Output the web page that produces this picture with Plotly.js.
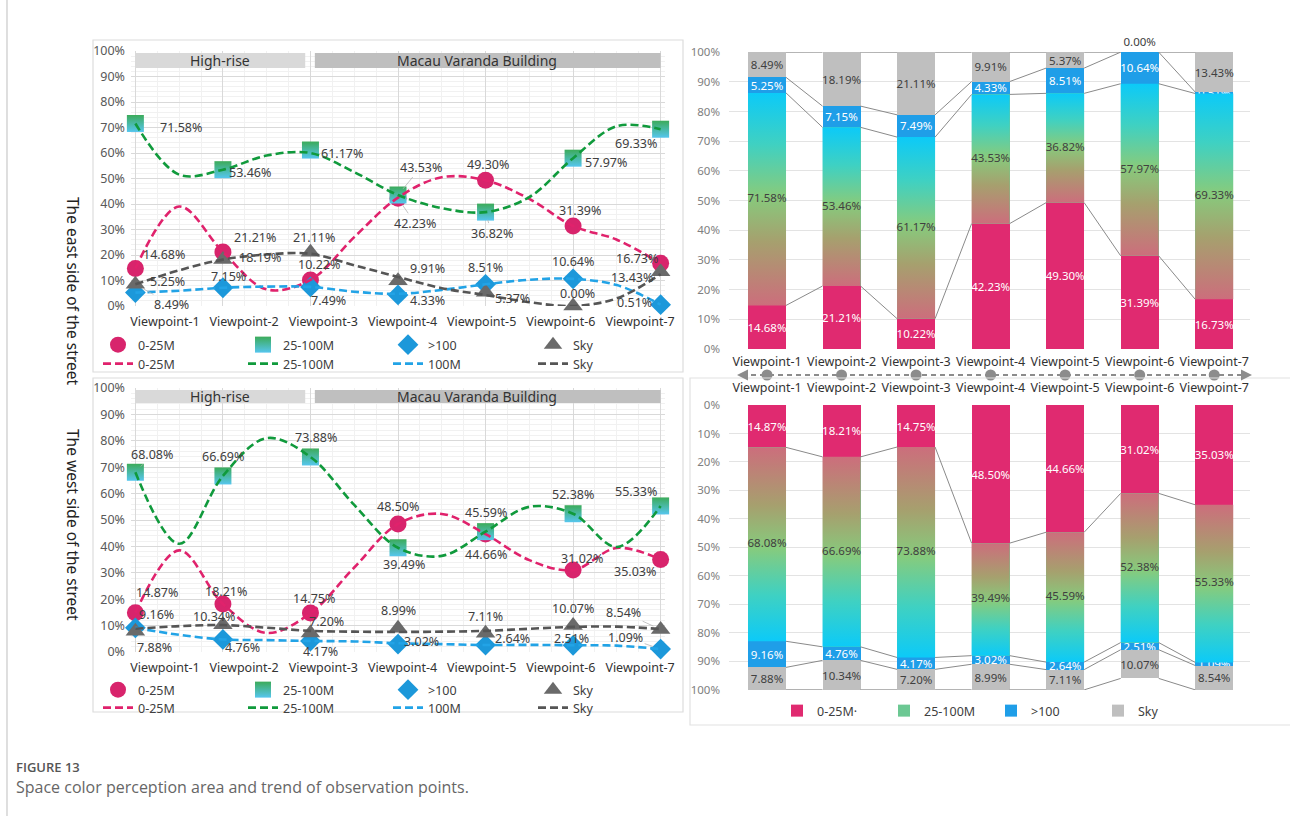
<!DOCTYPE html>
<html>
<head>
<meta charset="utf-8">
<script src="https://cdn.plot.ly/plotly-3.0.1.min.js"></script>
<style>
  html, body { margin: 0; padding: 0; background: #ffffff; }
  #chart { width: 1290px; height: 816px; }
</style>
</head>
<body>
<div id="chart"></div>
<script>
// ---- categories ----
const viewpoints = ['Viewpoint-1', 'Viewpoint-2', 'Viewpoint-3', 'Viewpoint-4', 'Viewpoint-5', 'Viewpoint-6', 'Viewpoint-7'];
const markerNames = ['0-25M', '25-100M', '>100', 'Sky'];
const lineNames = ['0-25M', '25-100M', '100M', 'Sky'];
const barNames = ['0-25M·', '25-100M', '>100', 'Sky'];
const zoneNames = ['High-rise', 'Macau Varanda Building'];
const sideNames = ['The east side of the street', 'The west side of the street'];

// ---- east side shares (%) ----
const eastNear = [14.68, 21.21, 10.22, 42.23, 49.30, 31.39, 16.73];
const eastMid  = [71.58, 53.46, 61.17, 43.53, 36.82, 57.97, 69.33];
const eastFar  = [5.25, 7.15, 7.49, 4.33, 8.51, 10.64, 0.51];
const eastSky  = [8.49, 18.19, 21.11, 9.91, 5.37, 0.00, 13.43];

// ---- west side shares (%) ----
const westNear = [14.87, 18.21, 14.75, 48.50, 44.66, 31.02, 35.03];
const westMid  = [68.08, 66.69, 73.88, 39.49, 45.59, 52.38, 55.33];
const westFar  = [9.16, 4.76, 4.17, 3.02, 2.64, 2.51, 1.09];
const westSky  = [7.88, 10.34, 7.20, 8.99, 7.11, 10.07, 8.54];

// ---- trend curves, sampled every half viewpoint ----
const trendX = [0, 0.5, 1, 1.5, 2, 2.5, 3, 3.5, 4, 4.5, 5, 5.5, 6];
const eastNearTrend = [14.68, 39, 21.21, 6.5, 10.22, 27, 42.5, 50.5, 49.3, 42, 31.39, 26, 16.73];
const eastMidTrend  = [71.58, 51.5, 53.46, 59, 60, 52.5, 43.53, 38.4, 36.82, 42.7, 57.97, 70.5, 69.33];
const eastFarTrend  = [5.25, 6, 7.15, 7.6, 7.49, 5.6, 4.8, 6.3, 8.51, 10.3, 10.64, 8.2, 0.51];
const eastSkyTrend  = [8.49, 14, 18.19, 20.2, 20.5, 16, 11.4, 7, 4.3, 1.5, 0, 3, 12.5];
const westNearTrend = [14.87, 38.5, 18.21, 7.2, 14.75, 32, 48.5, 52.3, 44.66, 34.8, 31.02, 39.4, 35.03];
const westMidTrend  = [68.08, 41, 66.69, 81, 73.88, 55.7, 39.49, 36.4, 45.59, 55, 52.38, 39.8, 55.33];
const westFarTrend  = [9.16, 6.5, 4.76, 4.5, 4.17, 4, 3.3, 3, 2.64, 2.7, 2.55, 2.4, 1.09];
const westSkyTrend  = [8.8, 9.8, 10.2, 9.2, 8, 7.7, 7.6, 7.7, 8, 8.8, 9.5, 9.6, 8.7];

// ---- look ----
const W = 1290, H = 816;
const px = v => v / W;
const py = v => 1 - v / H;
const idx = viewpoints.map((_, i) => i);
const fmt = v => v.toFixed(2) + '%';
const FONT = '"Noto Sans", "Open Sans", sans-serif';
const C = {
  near: '#d8246c', nearLine: '#e0226c',
  mid: '#3aa95e', midLine: '#109a3c',
  far: '#1c98da', farLine: '#22a3e6',
  sky: '#6a6a6a', skyLine: '#555555',
  barNear: '#e02a70', barFar: '#1f9ee8', barSky: '#bfbfbf',
  grid: '#d9d9d9', minor: '#f1f1f1'
};
const halfBar = 0.255;
const shareTop = 100.05; // a hair above 100% so rounded totals stay inside the axis
const gradUp = [[0, '#cc6e7c'], [0.3, '#a6a06e'], [0.52, '#86cb7d'], [0.76, '#3fd1c2'], [1, '#0ccaf8']];
const gradDown = gradUp.map(([t, c]) => [1 - t, c]).reverse();

// label placement [dx, dy] in px, per series and viewpoint
const eastShift = {
  near: [[29, -14], [32, -14], [9, -15], [17, 25], [2, -16], [7, -15], [-24, -5]],
  mid:  [[46, 4], [27, 3], [32, 3], [23, -28], [6, 21], [33, 4], [-25, 14]],
  far:  [[32, -11], [6, -11], [18, 14], [29, 6], [0, -17], [0, -17], [-26, -2]],
  sky:  [[36, 20], [37, -2], [4, -15], [29, -12], [27, 6], [4, -13], [-29, 6]]
};
const eastLeader = { near: [3, 5], mid: [3, 4], far: [], sky: [0] };
const westShift = {
  near: [[22, -20], [3, -12], [4, -15], [0, -17], [0, 20], [9, -12], [-26, 12]],
  mid:  [[17, -18], [0, -19], [6, -19], [6, 17], [0, -19], [0, -19], [-25, -14]],
  far:  [[21, -13], [20, 8], [10, 11], [23, -3], [27, -7], [-2, -7], [-35, -12]],
  sky:  [[19, 16], [-9, -8], [16, -11], [0, -18], [0, -17], [0, -17], [-37, -17]]
};
const westLeader = { near: [6], mid: [0, 2], far: [6], sky: [6] };

const traces = [];
const annotations = [];

// ---------- left panels: markers + dashed trend curves ----------
function leftPanel(xa, ya, vals, trends, shift, leader, markerLegend, lineLegend) {
  const keys = ['near', 'mid', 'far', 'sky'];
  const markerStyle = {
    near: { symbol: 'circle', size: 17, color: C.near },
    mid:  { symbol: 'square', size: 17, color: '#3cab5a', gradient: { type: 'vertical', color: '#56c6ee' } },
    far:  { symbol: 'diamond', size: 16, color: C.far },
    sky:  { symbol: 'triangle-up', size: 17, color: C.sky }
  };
  const lineColor = { near: C.nearLine, mid: C.midLine, far: C.farLine, sky: C.skyLine };
  keys.forEach((k, j) => {
    traces.push({
      type: 'scatter', mode: 'markers', x: idx, y: vals[j], xaxis: xa, yaxis: ya,
      name: markerNames[j], legend: markerLegend, cliponaxis: false,
      marker: Object.assign({ line: { width: 0 } }, markerStyle[k]), hoverinfo: 'skip'
    });
  });
  keys.forEach((k, j) => {
    traces.push({
      type: 'scatter', mode: 'lines', x: trendX, y: trends[j], xaxis: xa, yaxis: ya,
      name: lineNames[j], legend: lineLegend, cliponaxis: false,
      line: { color: lineColor[k], width: 2.6, dash: '8px,4px', shape: 'spline', smoothing: 1 },
      hoverinfo: 'skip'
    });
  });
  keys.forEach((k, j) => {
    vals[j].forEach((v, i) => {
      const lead = leader[k].indexOf(i) >= 0;
      annotations.push({
        xref: xa, yref: ya, x: i, y: v, text: fmt(v),
        showarrow: true, ax: shift[k][i][0], ay: shift[k][i][1],
        arrowhead: 0, arrowwidth: 0.8, standoff: 8,
        arrowcolor: lead ? '#b5b5b5' : 'rgba(0,0,0,0)',
        font: { family: FONT, size: 12.5, color: '#404040' }
      });
    });
  });
}

leftPanel('x', 'y', [eastNear, eastMid, eastFar, eastSky],
  [eastNearTrend, eastMidTrend, eastFarTrend, eastSkyTrend], eastShift, eastLeader, 'legend', 'legend2');
leftPanel('x2', 'y2', [westNear, westMid, westFar, westSky],
  [westNearTrend, westMidTrend, westFarTrend, westSkyTrend], westShift, westLeader, 'legend3', 'legend4');

// empty traces that carry the viewpoint label axes of the left panels
traces.push({ type: 'scatter', x: [], y: [], xaxis: 'x5', yaxis: 'y5', showlegend: false, hoverinfo: 'skip' });
traces.push({ type: 'scatter', x: [], y: [], xaxis: 'x6', yaxis: 'y6', showlegend: false, hoverinfo: 'skip' });

// ---------- right panels: stacked shares ----------
function stack(a, b) { return a.map((v, i) => v + b[i]); }

function rightPanel(xa, ya, near, mid, far, sky, grad, withLegend) {
  const series = [
    { v: near, name: barNames[0], color: C.barNear, text: '#ffffff' },
    { v: mid, name: barNames[1], color: '#6cc893', text: null },
    { v: far, name: barNames[2], color: C.barFar, text: '#ffffff' },
    { v: sky, name: barNames[3], color: C.barSky, text: '#404040' }
  ];
  series.forEach((s, j) => {
    // the top segment puts its label just outside when it has no height
    const pos = j === 3 ? s.v.map(v => (v > 0 ? 'inside' : 'outside')) : 'inside';
    traces.push({
      type: 'bar', x: idx, y: s.v, xaxis: xa, yaxis: ya, width: 2 * halfBar,
      name: s.name, legend: 'legend5', showlegend: withLegend,
      marker: { color: s.color, line: { width: 0 } },
      text: s.text ? s.v.map(fmt) : null,
      textposition: s.text ? pos : 'none', insidetextanchor: 'middle', constraintext: 'none', textangle: 0,
      textfont: { family: FONT, size: 11.5, color: s.text || '#404040' },
      outsidetextfont: { family: FONT, size: 11.5, color: '#404040' },
      cliponaxis: false, hoverinfo: 'skip'
    });
  });
  const b1 = near, b2 = stack(b1, mid), b3 = stack(b2, far), b4 = stack(b3, sky);
  // gradient fill of the 25-100M segment of each bar
  idx.forEach(i => {
    traces.push({
      type: 'scatter', mode: 'none', xaxis: xa, yaxis: ya, showlegend: false, hoverinfo: 'skip',
      x: [i - halfBar, i + halfBar, i + halfBar, i - halfBar, i - halfBar],
      y: [b1[i], b1[i], b2[i], b2[i], b1[i]],
      fill: 'toself', fillgradient: { type: 'vertical', colorscale: grad }
    });
  });
  traces.push({
    type: 'scatter', mode: 'text', xaxis: xa, yaxis: ya, showlegend: false, hoverinfo: 'skip',
    x: idx, y: mid.map((v, i) => b1[i] + v / 2), text: mid.map(fmt),
    textposition: 'middle center', textfont: { family: FONT, size: 11.5, color: '#404040' }
  });
  // series lines joining the segment boundaries of neighbouring bars
  [b1, b2, b3, b4].forEach(b => {
    const xs = [], ys = [];
    for (let i = 0; i < b.length - 1; i++) {
      xs.push(i + halfBar, i + 1 - halfBar, null);
      ys.push(b[i], b[i + 1], null);
    }
    traces.push({
      type: 'scatter', mode: 'lines', x: xs, y: ys, xaxis: xa, yaxis: ya,
      line: { color: '#8a8a8a', width: 1 }, showlegend: false, hoverinfo: 'skip', cliponaxis: false
    });
  });
}

rightPanel('x3', 'y3', eastNear, eastMid, eastFar, eastSky, gradUp, false);
rightPanel('x4', 'y4', westNear, westMid, westFar, westSky, gradDown, true);

// viewpoint dots on the walking direction arrow
traces.push({
  type: 'scatter', mode: 'markers', x: idx, y: idx.map(() => 0), xaxis: 'x7', yaxis: 'y7',
  marker: { size: 11, color: '#8c8c8c' }, showlegend: false, hoverinfo: 'skip', cliponaxis: false
});

// ---------- axes ----------
function leftX(anchor) {
  return {
    domain: [px(131), px(665)], range: [-0.05, 6.05], anchor: anchor,
    showticklabels: false, ticks: '', tickmode: 'linear', tick0: 0, dtick: 1,
    showgrid: true, gridcolor: C.grid, gridwidth: 1, zeroline: false, showline: false,
    minor: { tickmode: 'linear', tick0: 0, dtick: 0.25, showgrid: true, gridcolor: C.minor, gridwidth: 1 },
    fixedrange: true
  };
}
function leftY(domain, anchor) {
  return {
    domain: domain, range: [0, 100], anchor: anchor,
    tickmode: 'linear', tick0: 0, dtick: 10, ticksuffix: '%', ticks: '',
    showgrid: true, gridcolor: C.grid, zeroline: false, showline: false,
    minor: { tickmode: 'linear', tick0: 0, dtick: 2, showgrid: true, gridcolor: C.minor, gridwidth: 1 },
    tickfont: { family: FONT, size: 12.5, color: '#595959' }, ticklabelstandoff: 5, fixedrange: true
  };
}
function labelX(anchor) {
  return {
    domain: [px(163.4), px(641.6)], range: [-0.02, 6.02], anchor: anchor,
    tickmode: 'array', tickvals: idx, ticktext: viewpoints, ticks: '',
    showgrid: false, zeroline: false, showline: false,
    tickfont: { family: FONT, size: 12.5, color: '#333333' }, ticklabelstandoff: 6, fixedrange: true
  };
}
function hiddenY(domain, anchor) {
  return { domain: domain, range: [0, 1], anchor: anchor, visible: false, fixedrange: true };
}
function rightX(anchor, side, standoff) {
  return {
    domain: [px(729), px(1250)], range: [-0.51, 6.48], anchor: anchor, side: side,
    tickmode: 'array', tickvals: idx, ticktext: viewpoints, ticks: '',
    showgrid: false, zeroline: false, showline: false,
    tickfont: { family: FONT, size: 12.5, color: '#333333' }, ticklabelstandoff: standoff, fixedrange: true
  };
}
function rightY(domain, anchor, range) {
  return {
    domain: domain, range: range, anchor: anchor,
    tickmode: 'linear', tick0: 0, dtick: 10, ticksuffix: '%', ticks: '',
    showgrid: true, gridcolor: '#e3e3e3', zeroline: false, showline: false,
    tickfont: { family: FONT, size: 11.5, color: '#808080' }, ticklabelstandoff: 8, fixedrange: true
  };
}

// ---------- legends ----------
function rowLegend(xPx, yPx, entry) {
  return {
    orientation: 'h', x: px(xPx), y: py(yPx), xanchor: 'left', yanchor: 'middle',
    bgcolor: 'rgba(0,0,0,0)', borderwidth: 0, entrywidth: entry, entrywidthmode: 'pixels',
    font: { family: FONT, size: 12.5, color: '#404040' }, tracegroupgap: 0, itemclick: false,
    traceorder: 'normal'
  };
}

// ---------- shapes ----------
const shapes = [
  { type: 'line', xref: 'paper', yref: 'paper', x0: px(7), x1: px(7), y0: 0, y1: 1, line: { color: '#c9c9c9', width: 1.2 } },
  { type: 'rect', xref: 'paper', yref: 'paper', x0: px(93), x1: px(683), y0: py(372), y1: py(40), line: { color: '#dcdcdc', width: 1.2 } },
  { type: 'rect', xref: 'paper', yref: 'paper', x0: px(93), x1: px(683), y0: py(712), y1: py(378), line: { color: '#dcdcdc', width: 1.2 } },
  { type: 'rect', xref: 'paper', yref: 'paper', x0: px(690), x1: px(1296), y0: py(725), y1: py(378), line: { color: '#e2e2e2', width: 1.2 } },
  { type: 'line', xref: 'paper', yref: 'paper', x0: px(742), x1: px(1247), y0: py(375), y1: py(375), line: { color: '#8c8c8c', width: 2, dash: '5px,4px' } }
];
// zone header bars over the left panels
[['x', 'y', 93.3, 99.2], ['x2', 'y2', 94.3, 99.2]].forEach(([xa, ya, lo, hi]) => {
  shapes.push({ type: 'rect', xref: xa, yref: ya, x0: 0, x1: 1.94, y0: lo, y1: hi, fillcolor: '#d9d9d9', line: { width: 0 }, layer: 'between' });
  shapes.push({ type: 'rect', xref: xa, yref: ya, x0: 2.05, x1: 6.0, y0: lo, y1: hi, fillcolor: '#bfbfbf', line: { width: 0 }, layer: 'between' });
  annotations.push({ xref: xa, yref: ya, x: 0.97, y: (lo + hi) / 2, text: zoneNames[0], showarrow: false, font: { family: FONT, size: 14, color: '#333333' } });
  annotations.push({ xref: xa, yref: ya, x: 3.9, y: (lo + hi) / 2, text: zoneNames[1], showarrow: false, font: { family: FONT, size: 14, color: '#333333' } });
});

// side titles, arrow heads and caption
annotations.push(
  { xref: 'paper', yref: 'paper', x: px(60), y: py(195), text: sideNames[0], textangle: 90, showarrow: false, font: { family: FONT, size: 15.5, color: '#222222' } },
  { xref: 'paper', yref: 'paper', x: px(60), y: py(525), text: sideNames[1], textangle: 90, showarrow: false, font: { family: FONT, size: 15.5, color: '#222222' } },
  { xref: 'paper', yref: 'paper', x: px(737), y: py(375), text: '', showarrow: true, ax: 12, ay: 0, arrowhead: 2, arrowsize: 1.1, arrowwidth: 2, arrowcolor: '#8c8c8c' },
  { xref: 'paper', yref: 'paper', x: px(1252), y: py(375), text: '', showarrow: true, ax: -12, ay: 0, arrowhead: 2, arrowsize: 1.1, arrowwidth: 2, arrowcolor: '#8c8c8c' },
  { xref: 'paper', yref: 'paper', x: px(14), y: py(767), xanchor: 'left', yanchor: 'middle', text: 'FIGURE 13', showarrow: false, font: { family: '"Open Sans", sans-serif', size: 13, color: '#555555', weight: 600 } },
  { xref: 'paper', yref: 'paper', x: px(14), y: py(787), xanchor: 'left', yanchor: 'middle', text: 'Space color perception area and trend of observation points.', showarrow: false, font: { family: '"Open Sans", sans-serif', size: 16, color: '#666666' } }
);

const layout = {
  width: W, height: H, margin: { l: 0, r: 0, t: 0, b: 0 }, autosize: false,
  paper_bgcolor: '#ffffff', plot_bgcolor: 'rgba(0,0,0,0)',
  font: { family: FONT, size: 12, color: '#404040' },
  barmode: 'stack', hovermode: false, showlegend: true,
  xaxis: leftX('y'), yaxis: leftY([py(306), py(51)], 'x'),
  xaxis2: leftX('y2'), yaxis2: leftY([py(652), py(388)], 'x2'),
  xaxis3: rightX('y3', 'bottom', 3), yaxis3: rightY([py(349), py(52)], 'x3', [0, shareTop]),
  xaxis4: rightX('y4', 'top', 10), yaxis4: rightY([py(690), py(405)], 'x4', [shareTop, 0]),
  xaxis5: labelX('y5'), yaxis5: hiddenY([py(306), py(51)], 'x5'),
  xaxis6: labelX('y6'), yaxis6: hiddenY([py(652), py(388)], 'x6'),
  xaxis7: { domain: [px(729), px(1250)], range: [-0.51, 6.48], anchor: 'y7', visible: false, fixedrange: true },
  yaxis7: { domain: [py(381), py(369)], range: [-1, 1], anchor: 'x7', visible: false, fixedrange: true },
  legend: rowLegend(98, 345, 100),
  legend2: rowLegend(98, 364, 100),
  legend3: rowLegend(98, 690, 100),
  legend4: rowLegend(98, 708, 100),
  legend5: rowLegend(777, 711, 62),
  shapes: shapes,
  annotations: annotations
};

Plotly.newPlot('chart', traces, layout, { staticPlot: true, displayModeBar: false });
</script>
</body>
</html>
